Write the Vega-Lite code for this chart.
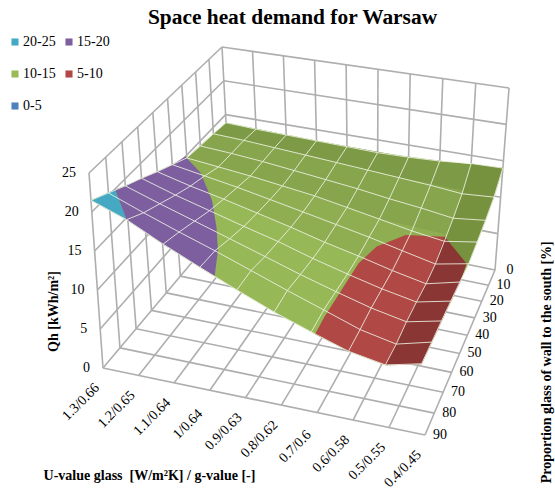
{"$schema":"https://vega.github.io/schema/vega-lite/v6.json","width":555,"height":492,"padding":0,"autosize":{"type":"none"},"background":"white","config":{"view":{"stroke":null}},
"title":{"text":"Space heat demand for Warsaw","font":"Liberation Serif","fontSize":21.4,"fontWeight":"bold","color":"#000","anchor":"middle","frame":"group","dx":15,"offset":-28},
"data":{"values":[
{"k":"g","id":"bv0","u":0,"v":0,"qh":0},{"k":"g","id":"bv0","u":0,"v":0,"qh":25},{"k":"g","id":"bv1","u":1,"v":0,"qh":0},{"k":"g","id":"bv1","u":1,"v":0,"qh":25},{"k":"g","id":"bv2","u":2,"v":0,"qh":0},{"k":"g","id":"bv2","u":2,"v":0,"qh":25},{"k":"g","id":"bv3","u":3,"v":0,"qh":0},{"k":"g","id":"bv3","u":3,"v":0,"qh":25},{"k":"g","id":"bv4","u":4,"v":0,"qh":0},{"k":"g","id":"bv4","u":4,"v":0,"qh":25},{"k":"g","id":"bv5","u":5,"v":0,"qh":0},{"k":"g","id":"bv5","u":5,"v":0,"qh":25},{"k":"g","id":"bv6","u":6,"v":0,"qh":0},{"k":"g","id":"bv6","u":6,"v":0,"qh":25},{"k":"g","id":"bv7","u":7,"v":0,"qh":0},{"k":"g","id":"bv7","u":7,"v":0,"qh":25},{"k":"g","id":"bv8","u":8,"v":0,"qh":0},{"k":"g","id":"bv8","u":8,"v":0,"qh":25},{"k":"g","id":"bv9","u":9,"v":0,"qh":0},{"k":"g","id":"bv9","u":9,"v":0,"qh":25},
{"k":"g","id":"bh0","u":0,"v":0,"qh":0},{"k":"g","id":"bh0","u":9,"v":0,"qh":0},{"k":"g","id":"bh5","u":0,"v":0,"qh":5},{"k":"g","id":"bh5","u":9,"v":0,"qh":5},{"k":"g","id":"bh10","u":0,"v":0,"qh":10},{"k":"g","id":"bh10","u":9,"v":0,"qh":10},{"k":"g","id":"bh15","u":0,"v":0,"qh":15},{"k":"g","id":"bh15","u":9,"v":0,"qh":15},{"k":"g","id":"bh20","u":0,"v":0,"qh":20},{"k":"g","id":"bh20","u":9,"v":0,"qh":20},{"k":"g","id":"bh25","u":0,"v":0,"qh":25},{"k":"g","id":"bh25","u":9,"v":0,"qh":25},
{"k":"g","id":"lv1","u":0,"v":1,"qh":0},{"k":"g","id":"lv1","u":0,"v":1,"qh":25},{"k":"g","id":"lv2","u":0,"v":2,"qh":0},{"k":"g","id":"lv2","u":0,"v":2,"qh":25},{"k":"g","id":"lv3","u":0,"v":3,"qh":0},{"k":"g","id":"lv3","u":0,"v":3,"qh":25},{"k":"g","id":"lv4","u":0,"v":4,"qh":0},{"k":"g","id":"lv4","u":0,"v":4,"qh":25},{"k":"g","id":"lv5","u":0,"v":5,"qh":0},{"k":"g","id":"lv5","u":0,"v":5,"qh":25},{"k":"g","id":"lv6","u":0,"v":6,"qh":0},{"k":"g","id":"lv6","u":0,"v":6,"qh":25},{"k":"g","id":"lv7","u":0,"v":7,"qh":0},{"k":"g","id":"lv7","u":0,"v":7,"qh":25},{"k":"g","id":"lv8","u":0,"v":8,"qh":0},{"k":"g","id":"lv8","u":0,"v":8,"qh":25},{"k":"g","id":"lv9","u":0,"v":9,"qh":0},{"k":"g","id":"lv9","u":0,"v":9,"qh":25},
{"k":"g","id":"lh0","u":0,"v":0,"qh":0},{"k":"g","id":"lh0","u":0,"v":9,"qh":0},{"k":"g","id":"lh5","u":0,"v":0,"qh":5},{"k":"g","id":"lh5","u":0,"v":9,"qh":5},{"k":"g","id":"lh10","u":0,"v":0,"qh":10},{"k":"g","id":"lh10","u":0,"v":9,"qh":10},{"k":"g","id":"lh15","u":0,"v":0,"qh":15},{"k":"g","id":"lh15","u":0,"v":9,"qh":15},{"k":"g","id":"lh20","u":0,"v":0,"qh":20},{"k":"g","id":"lh20","u":0,"v":9,"qh":20},{"k":"g","id":"lh25","u":0,"v":0,"qh":25},{"k":"g","id":"lh25","u":0,"v":9,"qh":25},
{"k":"g","id":"fu1","u":1,"v":0,"qh":0},{"k":"g","id":"fu1","u":1,"v":9,"qh":0},{"k":"g","id":"fu2","u":2,"v":0,"qh":0},{"k":"g","id":"fu2","u":2,"v":9,"qh":0},{"k":"g","id":"fu3","u":3,"v":0,"qh":0},{"k":"g","id":"fu3","u":3,"v":9,"qh":0},{"k":"g","id":"fu4","u":4,"v":0,"qh":0},{"k":"g","id":"fu4","u":4,"v":9,"qh":0},{"k":"g","id":"fu5","u":5,"v":0,"qh":0},{"k":"g","id":"fu5","u":5,"v":9,"qh":0},{"k":"g","id":"fu6","u":6,"v":0,"qh":0},{"k":"g","id":"fu6","u":6,"v":9,"qh":0},{"k":"g","id":"fu7","u":7,"v":0,"qh":0},{"k":"g","id":"fu7","u":7,"v":9,"qh":0},{"k":"g","id":"fu8","u":8,"v":0,"qh":0},{"k":"g","id":"fu8","u":8,"v":9,"qh":0},{"k":"g","id":"fu9","u":9,"v":0,"qh":0},{"k":"g","id":"fu9","u":9,"v":9,"qh":0},
{"k":"g","id":"fv1","u":0,"v":1,"qh":0},{"k":"g","id":"fv1","u":9,"v":1,"qh":0},{"k":"g","id":"fv2","u":0,"v":2,"qh":0},{"k":"g","id":"fv2","u":9,"v":2,"qh":0},{"k":"g","id":"fv3","u":0,"v":3,"qh":0},{"k":"g","id":"fv3","u":9,"v":3,"qh":0},{"k":"g","id":"fv4","u":0,"v":4,"qh":0},{"k":"g","id":"fv4","u":9,"v":4,"qh":0},{"k":"g","id":"fv5","u":0,"v":5,"qh":0},{"k":"g","id":"fv5","u":9,"v":5,"qh":0},{"k":"g","id":"fv6","u":0,"v":6,"qh":0},{"k":"g","id":"fv6","u":9,"v":6,"qh":0},{"k":"g","id":"fv7","u":0,"v":7,"qh":0},{"k":"g","id":"fv7","u":9,"v":7,"qh":0},{"k":"g","id":"fv8","u":0,"v":8,"qh":0},{"k":"g","id":"fv8","u":9,"v":8,"qh":0},{"k":"g","id":"fv9","u":0,"v":9,"qh":0},{"k":"g","id":"fv9","u":9,"v":9,"qh":0},

{"k":"m","u":0,"v":0,"qh":13.8},{"k":"m","u":1,"v":0,"qh":13.6},{"k":"m","u":2,"v":0,"qh":13.5},{"k":"m","u":3,"v":0,"qh":13.4},{"k":"m","u":4,"v":0,"qh":13.3},{"k":"m","u":5,"v":0,"qh":13.2},{"k":"m","u":6,"v":0,"qh":13.3},{"k":"m","u":7,"v":0,"qh":13.5},{"k":"m","u":8,"v":0,"qh":13.9},{"k":"m","u":9,"v":0,"qh":14},
{"k":"m","u":0,"v":1,"qh":14.1},{"k":"m","u":1,"v":1,"qh":13.9},{"k":"m","u":2,"v":1,"qh":13.6},{"k":"m","u":3,"v":1,"qh":13.3},{"k":"m","u":4,"v":1,"qh":13},{"k":"m","u":5,"v":1,"qh":12.7},{"k":"m","u":6,"v":1,"qh":12.4},{"k":"m","u":7,"v":1,"qh":12.1},{"k":"m","u":8,"v":1,"qh":11.7},{"k":"m","u":9,"v":1,"qh":12},
{"k":"m","u":0,"v":2,"qh":14.3},{"k":"m","u":1,"v":2,"qh":14},{"k":"m","u":2,"v":2,"qh":13.6},{"k":"m","u":3,"v":2,"qh":13.1},{"k":"m","u":4,"v":2,"qh":12.6},{"k":"m","u":5,"v":2,"qh":12.1},{"k":"m","u":6,"v":2,"qh":11.5},{"k":"m","u":7,"v":2,"qh":11},{"k":"m","u":8,"v":2,"qh":10.4},{"k":"m","u":9,"v":2,"qh":10.9},
{"k":"m","u":0,"v":3,"qh":14.6},{"k":"m","u":1,"v":3,"qh":14.1},{"k":"m","u":2,"v":3,"qh":13.6},{"k":"m","u":3,"v":3,"qh":13},{"k":"m","u":4,"v":3,"qh":12.4},{"k":"m","u":5,"v":3,"qh":11.6},{"k":"m","u":6,"v":3,"qh":10.8},{"k":"m","u":7,"v":3,"qh":10},{"k":"m","u":8,"v":3,"qh":9.4},{"k":"m","u":9,"v":3,"qh":10.1},
{"k":"m","u":0,"v":4,"qh":15.7},{"k":"m","u":1,"v":4,"qh":14.9},{"k":"m","u":2,"v":4,"qh":14.1},{"k":"m","u":3,"v":4,"qh":13.2},{"k":"m","u":4,"v":4,"qh":12.3},{"k":"m","u":5,"v":4,"qh":11.4},{"k":"m","u":6,"v":4,"qh":10.5},{"k":"m","u":7,"v":4,"qh":9.5},{"k":"m","u":8,"v":4,"qh":8.55},{"k":"m","u":9,"v":4,"qh":9.4},
{"k":"m","u":0,"v":5,"qh":16.8},{"k":"m","u":1,"v":5,"qh":15.6},{"k":"m","u":2,"v":5,"qh":14.6},{"k":"m","u":3,"v":5,"qh":13.5},{"k":"m","u":4,"v":5,"qh":12.4},{"k":"m","u":5,"v":5,"qh":11.2},{"k":"m","u":6,"v":5,"qh":10.2},{"k":"m","u":7,"v":5,"qh":9.1},{"k":"m","u":8,"v":5,"qh":8.2},{"k":"m","u":9,"v":5,"qh":9.25},
{"k":"m","u":0,"v":6,"qh":18},{"k":"m","u":1,"v":6,"qh":16.5},{"k":"m","u":2,"v":6,"qh":15.2},{"k":"m","u":3,"v":6,"qh":13.9},{"k":"m","u":4,"v":6,"qh":12.7},{"k":"m","u":5,"v":6,"qh":11.3},{"k":"m","u":6,"v":6,"qh":10.1},{"k":"m","u":7,"v":6,"qh":9},{"k":"m","u":8,"v":6,"qh":8.15},{"k":"m","u":9,"v":6,"qh":9.1},
{"k":"m","u":0,"v":7,"qh":19.1},{"k":"m","u":1,"v":7,"qh":17.5},{"k":"m","u":2,"v":7,"qh":16},{"k":"m","u":3,"v":7,"qh":14.5},{"k":"m","u":4,"v":7,"qh":13},{"k":"m","u":5,"v":7,"qh":11.5},{"k":"m","u":6,"v":7,"qh":10.15},{"k":"m","u":7,"v":7,"qh":8.9},{"k":"m","u":8,"v":7,"qh":8},{"k":"m","u":9,"v":7,"qh":8.95},
{"k":"m","u":0,"v":8,"qh":20.3},{"k":"m","u":1,"v":8,"qh":18.5},{"k":"m","u":2,"v":8,"qh":16.8},{"k":"m","u":3,"v":8,"qh":15.2},{"k":"m","u":4,"v":8,"qh":13.5},{"k":"m","u":5,"v":8,"qh":11.8},{"k":"m","u":6,"v":8,"qh":10.2},{"k":"m","u":7,"v":8,"qh":8.6},{"k":"m","u":8,"v":8,"qh":7.65},{"k":"m","u":9,"v":8,"qh":8.75},
{"k":"m","u":0,"v":9,"qh":21.5},{"k":"m","u":1,"v":9,"qh":19.8},{"k":"m","u":2,"v":9,"qh":17.5},{"k":"m","u":3,"v":9,"qh":15.4},{"k":"m","u":4,"v":9,"qh":13.4},{"k":"m","u":5,"v":9,"qh":11.5},{"k":"m","u":6,"v":9,"qh":9.9},{"k":"m","u":7,"v":9,"qh":8.4},{"k":"m","u":8,"v":9,"qh":7.6},{"k":"m","u":9,"v":9,"qh":8.6},

{"k":"base","s":1,"u":0,"v":0,"qh":13.8},{"k":"base","s":2,"u":1,"v":0,"qh":13.6},{"k":"base","s":3,"u":3,"v":0,"qh":13.4},{"k":"base","s":4,"u":5,"v":0,"qh":13.2},{"k":"base","s":5,"u":7,"v":0,"qh":13.5},{"k":"base","s":6,"u":9,"v":0,"qh":14},{"k":"base","s":7,"u":9,"v":1,"qh":12},{"k":"base","s":8,"u":9,"v":2,"qh":10.9},{"k":"base","s":9,"u":9,"v":3,"qh":10.1},{"k":"base","s":10,"u":9,"v":4,"qh":9.4},{"k":"base","s":11,"u":9,"v":5,"qh":9.25},{"k":"base","s":12,"u":9,"v":9,"qh":8.6},{"k":"base","s":13,"u":8,"v":9,"qh":7.6},{"k":"base","s":14,"u":7,"v":9,"qh":8.4},{"k":"base","s":15,"u":6,"v":9,"qh":9.9},{"k":"base","s":16,"u":5,"v":9,"qh":11.5},{"k":"base","s":17,"u":4,"v":9,"qh":13.4},{"k":"base","s":18,"u":3,"v":9,"qh":15.4},{"k":"base","s":19,"u":2,"v":9,"qh":17.5},{"k":"base","s":20,"u":1,"v":9,"qh":19.8},{"k":"base","s":21,"u":0,"v":9,"qh":21.5},{"k":"base","s":22,"u":0,"v":7,"qh":19.1},{"k":"base","s":23,"u":0,"v":5,"qh":16.8},{"k":"base","s":24,"u":0,"v":3,"qh":14.6},{"k":"base","s":25,"u":0,"v":1,"qh":14.1},

{"k":"shade","part":"g1","s":1,"u":0,"v":0,"qh":13.8},{"k":"shade","part":"g1","s":2,"u":3,"v":0,"qh":13.4},{"k":"shade","part":"g1","s":3,"u":6,"v":0,"qh":13.3},{"k":"shade","part":"g1","s":4,"u":9,"v":0,"qh":14},{"k":"shade","part":"g1","s":5,"u":9,"v":1,"qh":12},{"k":"shade","part":"g1","s":6,"u":6,"v":1,"qh":12.4},{"k":"shade","part":"g1","s":7,"u":3,"v":1,"qh":13.3},{"k":"shade","part":"g1","s":8,"u":0,"v":1,"qh":14.1},
{"k":"shade","part":"g2","s":1,"u":0,"v":1,"qh":14.1},{"k":"shade","part":"g2","s":2,"u":3,"v":1,"qh":13.3},{"k":"shade","part":"g2","s":3,"u":6,"v":1,"qh":12.4},{"k":"shade","part":"g2","s":4,"u":9,"v":1,"qh":12},{"k":"shade","part":"g2","s":5,"u":9,"v":2,"qh":10.9},{"k":"shade","part":"g2","s":6,"u":9,"v":3,"qh":10.1},{"k":"shade","part":"g2","s":7,"u":6,"v":3,"qh":10.8},{"k":"shade","part":"g2","s":8,"u":3,"v":3,"qh":13},{"k":"shade","part":"g2","s":9,"u":0,"v":3,"qh":14.6},{"k":"shade","part":"g2","s":10,"u":0,"v":2,"qh":14.3},
{"k":"shade","part":"g3","s":1,"u":0,"v":3,"qh":14.6},{"k":"shade","part":"g3","s":2,"u":3,"v":3,"qh":13},{"k":"shade","part":"g3","s":3,"u":6,"v":3,"qh":10.8},{"k":"shade","part":"g3","s":4,"u":9,"v":3,"qh":10.1},{"k":"shade","part":"g3","s":5,"u":9,"v":4,"qh":9.4},{"k":"shade","part":"g3","s":6,"u":9,"v":5,"qh":9.25},{"k":"shade","part":"g3","s":7,"u":6,"v":5,"qh":10.2},{"k":"shade","part":"g3","s":8,"u":3,"v":5,"qh":13.5},{"k":"shade","part":"g3","s":9,"u":0,"v":5,"qh":16.8},{"k":"shade","part":"g3","s":10,"u":0,"v":4,"qh":15.7},
{"k":"shade","part":"g4","s":1,"u":8,"v":0,"qh":13.9},{"k":"shade","part":"g4","s":2,"u":9,"v":0,"qh":14},{"k":"shade","part":"g4","s":3,"u":9,"v":1,"qh":12},{"k":"shade","part":"g4","s":4,"u":9,"v":2,"qh":10.9},{"k":"shade","part":"g4","s":5,"u":9,"v":3,"qh":10.1},{"k":"shade","part":"g4","s":6,"u":9,"v":4,"qh":9.4},{"k":"shade","part":"g4","s":7,"u":8,"v":4,"qh":8.55},{"k":"shade","part":"g4","s":8,"u":8,"v":3,"qh":9.4},{"k":"shade","part":"g4","s":9,"u":8,"v":2,"qh":10.4},{"k":"shade","part":"g4","s":10,"u":8,"v":1,"qh":11.7},

{"k":"band","band":"20-25","s":1,"u":0,"v":9,"qh":21.5},{"k":"band","band":"20-25","s":2,"u":1,"v":9,"qh":19.8},{"k":"band","band":"20-25","s":3,"u":0,"v":7.6,"qh":19.9},
{"k":"band","band":"15-20","s":1,"u":0,"v":3.1,"qh":15},{"k":"band","band":"15-20","s":2,"u":0.83,"v":3.9,"qh":15},{"k":"band","band":"15-20","s":3,"u":1.8,"v":5.35,"qh":15},{"k":"band","band":"15-20","s":4,"u":2.52,"v":6.75,"qh":15},{"k":"band","band":"15-20","s":5,"u":3.04,"v":7.9,"qh":15},{"k":"band","band":"15-20","s":6,"u":3.4,"v":9,"qh":14.6},{"k":"band","band":"15-20","s":7,"u":3,"v":9,"qh":15.4},{"k":"band","band":"15-20","s":8,"u":2,"v":9,"qh":17.5},{"k":"band","band":"15-20","s":9,"u":1,"v":9,"qh":19.8},{"k":"band","band":"15-20","s":10,"u":0,"v":7.6,"qh":19.9},{"k":"band","band":"15-20","s":11,"u":0,"v":7,"qh":19.1},{"k":"band","band":"15-20","s":12,"u":0,"v":6,"qh":18},{"k":"band","band":"15-20","s":13,"u":0,"v":5,"qh":16.8},{"k":"band","band":"15-20","s":14,"u":0,"v":4,"qh":15.7},
{"k":"band","band":"5-10","s":1,"u":6.1,"v":9,"qh":9.7},{"k":"band","band":"5-10","s":2,"u":6.1,"v":8.2,"qh":10},{"k":"band","band":"5-10","s":3,"u":6.1,"v":7.3,"qh":10},{"k":"band","band":"5-10","s":4,"u":6.1,"v":6.25,"qh":10},{"k":"band","band":"5-10","s":5,"u":6.1,"v":5.3,"qh":10},{"k":"band","band":"5-10","s":6,"u":6.3,"v":4.23,"qh":10},{"k":"band","band":"5-10","s":7,"u":6.9,"v":3.3,"qh":10},{"k":"band","band":"5-10","s":8,"u":8,"v":3,"qh":10},{"k":"band","band":"5-10","s":9,"u":9,"v":4.27,"qh":10},{"k":"band","band":"5-10","s":10,"u":9,"v":5,"qh":9.25},{"k":"band","band":"5-10","s":11,"u":9,"v":6,"qh":9.1},{"k":"band","band":"5-10","s":12,"u":9,"v":7,"qh":8.95},{"k":"band","band":"5-10","s":13,"u":9,"v":8,"qh":8.75},{"k":"band","band":"5-10","s":14,"u":9,"v":9,"qh":8.6},{"k":"band","band":"5-10","s":15,"u":8,"v":9,"qh":7.6},{"k":"band","band":"5-10","s":16,"u":7,"v":9,"qh":8.4},

{"k":"dark","s":1,"u":8,"v":3,"qh":10},{"k":"dark","s":2,"u":9,"v":4.27,"qh":10},{"k":"dark","s":3,"u":9,"v":5,"qh":9.25},{"k":"dark","s":4,"u":9,"v":6,"qh":9.1},{"k":"dark","s":5,"u":9,"v":7,"qh":8.95},{"k":"dark","s":6,"u":9,"v":8,"qh":8.75},{"k":"dark","s":7,"u":9,"v":9,"qh":8.6},{"k":"dark","s":8,"u":8,"v":9,"qh":7.6},{"k":"dark","s":9,"u":8,"v":8,"qh":7.65},{"k":"dark","s":10,"u":8,"v":7,"qh":8},{"k":"dark","s":11,"u":8,"v":6,"qh":8.15},{"k":"dark","s":12,"u":8,"v":5,"qh":8.2},{"k":"dark","s":13,"u":8,"v":4,"qh":8.55},

{"k":"lu","label":"1.3/0.66","u":0,"v":9,"qh":0},{"k":"lu","label":"1.2/0.65","u":1,"v":9,"qh":0},{"k":"lu","label":"1.1/0.64","u":2,"v":9,"qh":0},{"k":"lu","label":"1/0.64","u":3,"v":9,"qh":0},{"k":"lu","label":"0.9/0.63","u":4,"v":9,"qh":0},{"k":"lu","label":"0.8/0.62","u":5,"v":9,"qh":0},{"k":"lu","label":"0.7/0.6","u":6,"v":9,"qh":0},{"k":"lu","label":"0.6/0.58","u":7,"v":9,"qh":0},{"k":"lu","label":"0.5/0.55","u":8,"v":9,"qh":0},{"k":"lu","label":"0.4/0.45","u":9,"v":9,"qh":0},
{"k":"lv","label":"0","u":9,"v":0,"qh":0},{"k":"lv","label":"10","u":9,"v":1,"qh":0},{"k":"lv","label":"20","u":9,"v":2,"qh":0},{"k":"lv","label":"30","u":9,"v":3,"qh":0},{"k":"lv","label":"40","u":9,"v":4,"qh":0},{"k":"lv","label":"50","u":9,"v":5,"qh":0},{"k":"lv","label":"60","u":9,"v":6,"qh":0},{"k":"lv","label":"70","u":9,"v":7,"qh":0},{"k":"lv","label":"80","u":9,"v":8,"qh":0},{"k":"lv","label":"90","u":9,"v":9,"qh":0},
{"k":"lq","label":"0","u":0,"v":9,"qh":0},{"k":"lq","label":"5","u":0,"v":9,"qh":5},{"k":"lq","label":"10","u":0,"v":9,"qh":10},{"k":"lq","label":"15","u":0,"v":9,"qh":15},{"k":"lq","label":"20","u":0,"v":9,"qh":20},{"k":"lq","label":"25","u":0,"v":9,"qh":25},
{"k":"lt","label":"Proportion glass of wall to the south [%]","u":9,"v":4.5,"qh":0}
]},
"transform":[
{"calculate":"datum.u/9","as":"U"},{"calculate":"datum.v/9","as":"V"},{"calculate":"datum.qh/25","as":"Z"},
{"calculate":"1-0.00519*datum.U-0.18125*datum.V","as":"fw"},{"calculate":"1-0.0476*datum.U-0.1334*datum.V","as":"tw"},
{"calculate":"(1-datum.Z)*(261.43*datum.U-146.67*datum.V+231)/datum.fw+datum.Z*(262.8*datum.U-144.87*datum.V+222)/datum.tw","as":"px"},
{"calculate":"(1-datum.Z)*(52.6*datum.U+85.3*datum.V+216)/datum.fw+datum.Z*(36.81*datum.U+102.92*datum.V+47)/datum.tw","as":"py"}
],
"encoding":{
"x":{"field":"px","type":"quantitative","scale":{"domain":[0,555],"range":[0,555],"nice":false,"zero":false},"axis":{"title":"U-value glass\u00a0 [W/m²K] / g-value [-]","titleFont":"Liberation Serif","titleFontSize":14,"titleFontWeight":"bold","titleColor":"#000","titleX":149,"titleY":-17,"titleBaseline":"middle","titleAlign":"center","labels":false,"ticks":false,"domain":false,"grid":false}},
"y":{"field":"py","type":"quantitative","scale":{"domain":[0,492],"range":[0,492],"nice":false,"zero":false},"axis":{"title":"Qh [kWh/m²]","titleFont":"Liberation Serif","titleFontSize":14,"titleFontWeight":"bold","titleColor":"#000","titleX":53,"titleY":311,"titleAngle":270,"titleBaseline":"middle","titleAlign":"center","labels":false,"ticks":false,"domain":false,"grid":false}}
},
"layer":[
{"transform":[{"filter":"datum.k=='g'"}],"mark":{"type":"line","stroke":"#aeaeae","strokeWidth":1.6},"encoding":{"detail":{"field":"id"}}},
{"transform":[{"filter":"datum.k=='base'"}],"mark":{"type":"line","fill":"#97b857","stroke":"#97b857","strokeWidth":0.5},"encoding":{"order":{"field":"s","type":"quantitative"}}},
{"transform":[{"filter":"datum.k=='shade'"}],"mark":{"type":"line","strokeWidth":0},"encoding":{"fill":{"field":"part","type":"nominal","legend":null,"scale":{"domain":["g1","g2","g3","g4"],"range":["#7d9a46","#86a54c","#8fae52","#76923f"]}},"order":{"field":"s","type":"quantitative"}}},
{"transform":[{"filter":"datum.k=='band'"}],"mark":{"type":"line","strokeWidth":0},"encoding":{"fill":{"field":"band","type":"nominal","sort":null,"scale":{"domain":["20-25","10-15","0-5","15-20","5-10"],"range":["#45a9c4","#9bbb59","#4f81bd","#7d5f9f","#b04845"]},"legend":{"title":null,"orient":"none","legendX":8,"legendY":35,"columns":2,"symbolType":"square","symbolSize":50,"symbolStrokeWidth":0,"labelFont":"Liberation Serif","labelFontSize":14,"labelColor":"#000","rowPadding":18,"columnPadding":6,"labelOffset":1}},"order":{"field":"s","type":"quantitative"}}},
{"transform":[{"filter":"datum.k=='dark'"}],"mark":{"type":"line","fill":"#8a3634","stroke":"#8a3634","strokeWidth":0.5},"encoding":{"order":{"field":"s","type":"quantitative"}}},
{"transform":[{"filter":"datum.k=='m'"}],"mark":{"type":"line","stroke":"#eef2e4","strokeWidth":1,"opacity":0.85},"encoding":{"detail":{"field":"v"},"order":{"field":"u","type":"quantitative"}}},
{"transform":[{"filter":"datum.k=='m'"}],"mark":{"type":"line","stroke":"#eef2e4","strokeWidth":1,"opacity":0.85},"encoding":{"detail":{"field":"u"},"order":{"field":"v","type":"quantitative"}}},
{"transform":[{"filter":"datum.k=='lu'"}],"mark":{"type":"text","font":"Liberation Serif","fontSize":14,"color":"#000","angle":315,"align":"center","baseline":"middle","dx":-39.6,"dy":8.5},"encoding":{"text":{"field":"label"}}},
{"transform":[{"filter":"datum.k=='lv'"}],"mark":{"type":"text","font":"Liberation Serif","fontSize":14,"color":"#000","align":"center","baseline":"middle","dx":15,"dy":0},"encoding":{"text":{"field":"label"}}},
{"transform":[{"filter":"datum.k=='lq'"}],"mark":{"type":"text","font":"Liberation Serif","fontSize":14,"color":"#000","align":"right","baseline":"middle","dx":-13,"dy":0},"encoding":{"text":{"field":"label"}}},
{"transform":[{"filter":"datum.k=='lt'"}],"mark":{"type":"text","font":"Liberation Serif","fontSize":14,"fontWeight":"bold","color":"#000","angle":270,"align":"center","baseline":"middle","dx":-18,"dy":83.5},"encoding":{"text":{"field":"label"}}}
],
"resolve":{"scale":{"fill":"independent"}}
}
